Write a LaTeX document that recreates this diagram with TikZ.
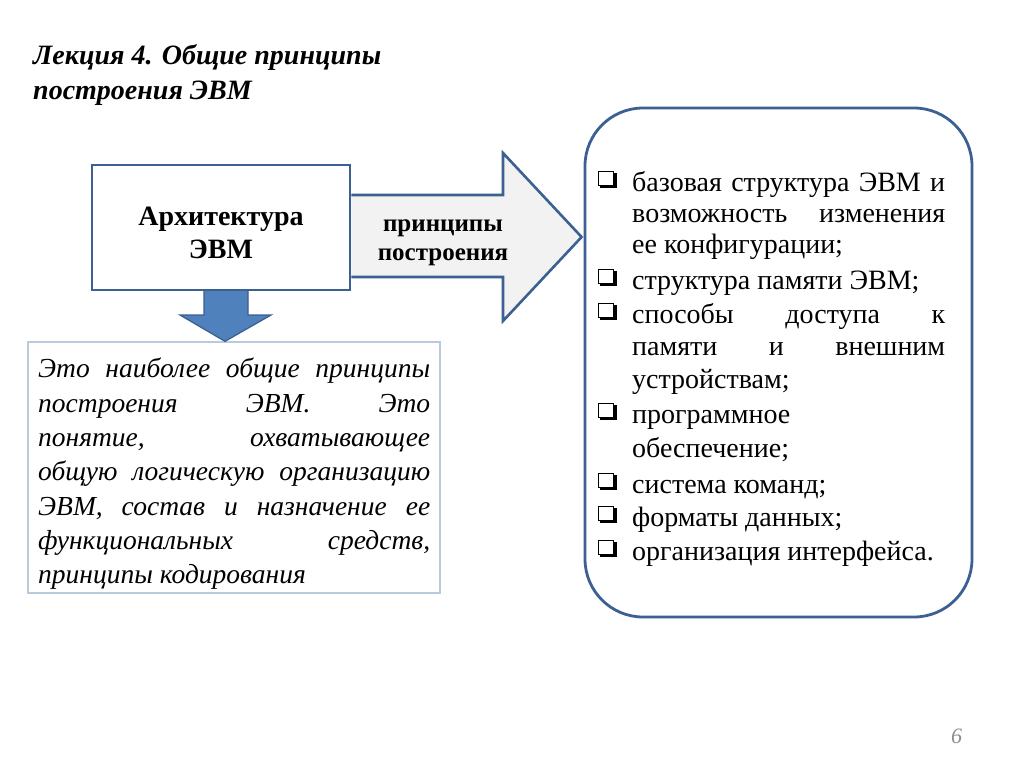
\documentclass[tikz,border=0pt]{standalone}
\usepackage{fontspec}
\setmainfont{Liberation Serif}
\definecolor{outl}{HTML}{3B6091}
\definecolor{blfill}{HTML}{4F81BD}
\definecolor{grfill}{HTML}{F2F2F2}
\definecolor{txtbox}{HTML}{B9CADB}
\definecolor{pgnum}{HTML}{8C8C8C}
\begin{document}
\begin{tikzpicture}[x=1pt,y=-1pt,
  txt/.style={inner sep=0pt, anchor=base west},
  titletxt/.style={txt, font=\fontsize{28}{28}\selectfont\bfseries\itshape},
  itemtxt/.style={txt, font=\fontsize{28}{28}\selectfont},
  desctxt/.style={txt, font=\fontsize{27.5}{27.5}\selectfont\itshape},
  headtxt/.style={inner sep=0pt, anchor=base, font=\fontsize{28}{28}\selectfont\bfseries},
  arrtxt/.style={inner sep=0pt, anchor=base, font=\fontsize{25}{25}\selectfont\bfseries},
  bulletbox/.style={draw=black, fill=white, line width=1.2pt}
]
\useasboundingbox (0,0) rectangle (1024,768);
\fill[white] (0,0) rectangle (1024,768);

% title
\node[titletxt] (t1) at (33,64) {Лекция 4. Общие принципы};
\node[titletxt] (t2) at (33,99) {построения ЭВМ};

% architecture box
\node[draw=outl, line width=2.8pt, fill=white, minimum width=258pt, minimum height=125pt, inner sep=0pt] (arch) at (221,227.5) {};
\node[headtxt] (archA) at (221,225) {Архитектура};
\node[headtxt] (archB) at (221,258) {ЭВМ};

% right list box
\node[draw=outl, line width=2.8pt, rounded corners=58pt, minimum width=387pt, minimum height=509pt, inner sep=0pt] (list) at (778.5,362.5) {};

% right arrow from arch to list
\coordinate (rs1) at (arch.east |- 0,195);
\coordinate (rs2) at (arch.east |- 0,277);
\coordinate (rtip) at (list.west |- 0,237);
\draw[draw=outl, line width=2.6pt, fill=grfill, line join=miter]
  (rs1) -- (503,195) -- (503,153) -- ([xshift=-2pt]rtip) -- (503,321) -- (503,277) -- (rs2);
\node[arrtxt] (ar1) at (443,231) {принципы};
\node[arrtxt] (ar2) at (443,260) {построения};

% description box
\node[draw=txtbox, line width=1.4pt, fill=white, minimum width=412pt, minimum height=251pt, inner sep=0pt] (desc) at (234,467.5) {};

% down arrow from arch to desc
\coordinate (dtip) at (desc.north -| 225,0);
\draw[draw=outl, line width=1.3pt, fill=blfill, line join=miter]
  (204,291) -- (204,315) -- (180,315) -- (dtip) -- (271,315) -- (248,315) -- (248,291);

% description text
\node[desctxt] (d1) at (38,377) {\makebox[392pt][s]{Это наиболее общие принципы}};
\node[desctxt] (d2) at (38,412) {\makebox[392pt][s]{построения ЭВМ. Это}};
\node[desctxt] (d3) at (38,446) {\makebox[392pt][s]{понятие, охватывающее}};
\node[desctxt] (d4) at (38,480) {\makebox[392pt][s]{общую логическую организацию}};
\node[desctxt] (d5) at (38,515) {\makebox[392pt][s]{ЭВМ, состав и назначение ее}};
\node[desctxt] (d6) at (38,549) {\makebox[392pt][s]{функциональных средств,}};
\node[desctxt] (d7) at (38,583) {принципы кодирования};

% list bullets
\foreach \b in {191,289,323,423,493,526,560} {
  \fill[black] (600,\b-18) rectangle (616.5,\b-3.5);
  \node[bulletbox, minimum width=15pt, minimum height=14pt, inner sep=0pt, anchor=north west] (bul\b) at (598,\b-20.5) {};
}

% list text
\node[itemtxt] (l1) at (632,191) {\makebox[313pt][s]{базовая структура ЭВМ и}};
\node[itemtxt] (l2) at (632,222) {\makebox[313pt][s]{возможность изменения}};
\node[itemtxt] (l3) at (632,253) {ее конфигурации;};
\node[itemtxt] (l4) at (632,289) {структура памяти ЭВМ;};
\node[itemtxt] (l5) at (632,323) {\makebox[313pt][s]{способы доступа к}};
\node[itemtxt] (l6) at (632,355) {\makebox[313pt][s]{памяти и внешним}};
\node[itemtxt] (l7) at (632,388) {устройствам;};
\node[itemtxt] (l8) at (632,423) {программное};
\node[itemtxt] (l9) at (632,457) {обеспечение;};
\node[itemtxt] (l10) at (632,493) {система команд;};
\node[itemtxt] (l11) at (632,526) {форматы данных;};
\node[itemtxt] (l12) at (632,560) {организация интерфейса.};

% page number
\node[txt, font=\fontsize{22}{22}\selectfont\itshape, text=pgnum] (pg) at (951,743) {6};
\end{tikzpicture}
\end{document}
